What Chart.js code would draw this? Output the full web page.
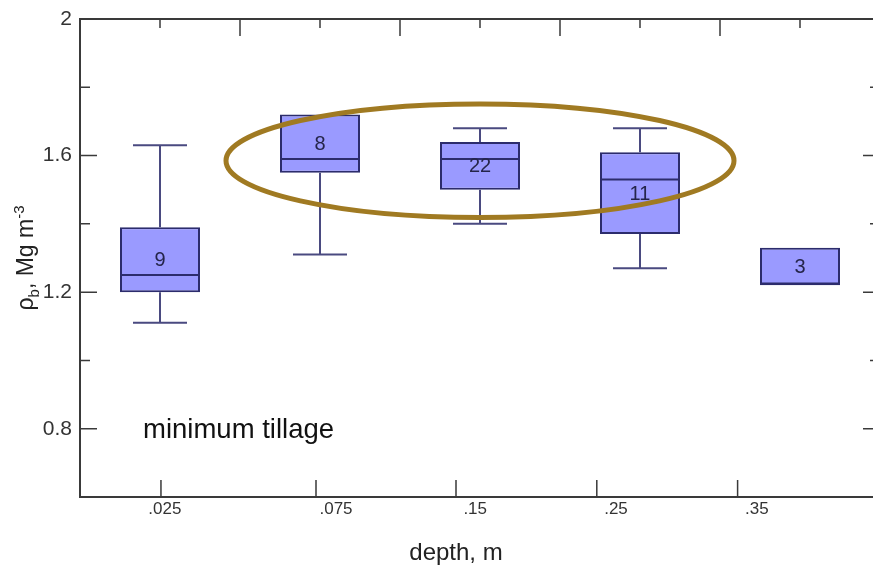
<!DOCTYPE html>
<html>
<head>
<meta charset="utf-8">
<script src="https://cdn.jsdelivr.net/npm/chart.js@4/dist/chart.umd.min.js"></script>
<style>
  html, body { margin: 0; padding: 0; background: #fff; overflow: hidden; }
  #box { display: block; }
</style>
</head>
<body>
<canvas id="box" width="880" height="567"></canvas>
<script>
// bulk density by depth, minimum tillage
const depths = ['.025', '.075', '.15', '.25', '.35'];
const whiskerLow = [1.11, 1.31, 1.40, 1.27, 1.22];
const q1 = [1.20, 1.55, 1.50, 1.37, 1.22];
const median = [1.25, 1.59, 1.59, 1.53, 1.225];
const q3 = [1.39, 1.72, 1.64, 1.61, 1.33];
const whiskerHigh = [1.63, 1.72, 1.68, 1.68, 1.33];
const counts = [9, 8, 22, 11, 3];
const yMajor = [0.8, 1.2, 1.6, 2];
const yMinor = [1.0, 1.4, 1.8];

// where the depth ticks / labels sit along the bottom (in category units)
const depthTickAt = [0.006, 0.975, 1.85, 2.73, 3.61];
const depthLabelAt = [0.03, 1.1, 1.97, 2.85, 3.73];

const FONT = '"Liberation Sans", Arial, sans-serif';
const axisColor = '#3a3a3a';
const boxFill = '#9a9aff';
const boxEdge = '#2c2c6c';
const whiskerColor = '#4a4a80';
const ringColor = '#a07a22';

const boxDecor = {
    id: 'boxDecor',
    afterDatasetsDraw(chart) {
        const ctx = chart.ctx;
        const x = chart.scales.x, y = chart.scales.y;
        const half = 27;
        ctx.save();
        // whiskers
        ctx.strokeStyle = whiskerColor;
        ctx.lineWidth = 2;
        depths.forEach((d, i) => {
            const cx = x.getPixelForValue(i);
            [[whiskerLow[i], q1[i]], [whiskerHigh[i], q3[i]]].forEach(([w, q]) => {
                if (Math.abs(w - q) < 1e-6) return;
                ctx.beginPath();
                ctx.moveTo(cx, y.getPixelForValue(q));
                ctx.lineTo(cx, y.getPixelForValue(w));
                ctx.moveTo(cx - half, y.getPixelForValue(w));
                ctx.lineTo(cx + half, y.getPixelForValue(w));
                ctx.stroke();
            });
        });
        // medians
        const meta = chart.getDatasetMeta(0);
        ctx.strokeStyle = boxEdge;
        ctx.lineWidth = 2;
        meta.data.forEach((bar, i) => {
            const w = bar.width / 2;
            const my = y.getPixelForValue(median[i]);
            ctx.beginPath();
            ctx.moveTo(bar.x - w, my);
            ctx.lineTo(bar.x + w, my);
            ctx.stroke();
        });
        // sample counts
        ctx.fillStyle = '#25254a';
        ctx.font = '20px ' + FONT;
        ctx.textAlign = 'center';
        ctx.textBaseline = 'middle';
        counts.forEach((n, i) => {
            const my = (y.getPixelForValue(q1[i]) + y.getPixelForValue(q3[i])) / 2;
            ctx.fillText(String(n), x.getPixelForValue(i), my + 1);
        });

        // highlight ring around the middle three depths
        const ecx = x.getPixelForValue(2);
        const ecy = y.getPixelForValue(1.585);
        const rx = x.getPixelForValue(2 + 1.5875) - ecx;
        const ry = y.getPixelForValue(1.585 - 0.1664) - ecy;
        ctx.strokeStyle = ringColor;
        ctx.lineWidth = 5;
        ctx.beginPath();
        ctx.ellipse(ecx, ecy, rx, ry, 0, 0, Math.PI * 2);
        ctx.stroke();

        // treatment label
        ctx.fillStyle = '#111';
        ctx.font = '27.5px ' + FONT;
        ctx.textAlign = 'left';
        ctx.fillText('minimum tillage', x.getPixelForValue(-0.106), y.getPixelForValue(0.795));
        ctx.restore();
    },
    afterDraw(chart) {
        const ctx = chart.ctx;
        const a = chart.chartArea;
        const x = chart.scales.x, y = chart.scales.y;
        ctx.save();
        ctx.strokeStyle = axisColor;
        ctx.lineWidth = 2;
        ctx.strokeRect(a.left, a.top, a.right - a.left, a.bottom - a.top);

        ctx.lineWidth = 1.5;
        ctx.beginPath();
        // inward ticks on left and right
        yMajor.forEach(v => {
            const py = y.getPixelForValue(v);
            ctx.moveTo(a.left, py); ctx.lineTo(a.left + 17, py);
            ctx.moveTo(a.right, py); ctx.lineTo(a.right - 17, py);
        });
        yMinor.forEach(v => {
            const py = y.getPixelForValue(v);
            ctx.moveTo(a.left, py); ctx.lineTo(a.left + 10, py);
            ctx.moveTo(a.right, py); ctx.lineTo(a.right - 10, py);
        });
        // top ticks
        depths.forEach((d, i) => {
            const px = x.getPixelForValue(i);
            ctx.moveTo(px, a.top); ctx.lineTo(px, a.top + 9);
            if (i < depths.length - 1) {
                const pm = x.getPixelForValue(i + 0.5);
                ctx.moveTo(pm, a.top); ctx.lineTo(pm, a.top + 17);
            }
        });
        // bottom depth ticks
        depthTickAt.forEach(t => {
            const px = x.getPixelForValue(t);
            ctx.moveTo(px, a.bottom); ctx.lineTo(px, a.bottom - 17);
        });
        ctx.stroke();

        // depth labels
        ctx.fillStyle = '#333';
        ctx.font = '17px ' + FONT;
        ctx.textAlign = 'center';
        ctx.textBaseline = 'middle';
        depths.forEach((d, i) => {
            ctx.fillText(d, x.getPixelForValue(depthLabelAt[i]), a.bottom + 12);
        });

        // x title
        ctx.fillStyle = '#222';
        ctx.font = '24px ' + FONT;
        ctx.fillText('depth, m', x.getPixelForValue(1.85), a.bottom + 56);

        // y title with sub/superscript
        const big = '23px ' + FONT, small = '15px ' + FONT;
        const parts = [
            { t: 'ρ', f: big, dy: 0 },
            { t: 'b', f: small, dy: 6 },
            { t: ', Mg m', f: big, dy: 0 },
            { t: '-3', f: small, dy: -9 }
        ];
        let total = 0;
        parts.forEach(p => { ctx.font = p.f; p.w = ctx.measureText(p.t).width; total += p.w; });
        ctx.translate(33, 258);
        ctx.rotate(-Math.PI / 2);
        ctx.textAlign = 'left';
        ctx.textBaseline = 'alphabetic';
        let cx = -total / 2;
        parts.forEach(p => {
            ctx.font = p.f;
            ctx.fillText(p.t, cx, p.dy);
            cx += p.w;
        });
        ctx.restore();
    }
};

new Chart(document.getElementById('box'), {
    type: 'bar',
    data: {
        labels: depths,
        datasets: [{
            data: q1.map((v, i) => [v, q3[i]]),
            backgroundColor: boxFill,
            borderColor: boxEdge,
            borderWidth: 2,
            borderSkipped: false,
            barPercentage: 0.5,
            categoryPercentage: 1
        }]
    },
    options: {
        responsive: false,
        animation: false,
        layout: { padding: { top: 19, bottom: 70, left: 0, right: 0 } },
        plugins: { legend: { display: false }, tooltip: { enabled: false } },
        scales: {
            x: { type: 'category', display: false, offset: true },
            y: {
                min: 0.6,
                max: 2,
                grid: { display: false },
                border: { display: false },
                afterBuildTicks: s => { s.ticks = yMajor.map(v => ({ value: v })); },
                afterFit: s => { s.width = 80; },
                ticks: {
                    color: '#333',
                    padding: 0,
                    font: { family: FONT, size: 21 },
                    callback: v => String(v)
                }
            }
        }
    },
    plugins: [boxDecor]
});
</script>
</body>
</html>
